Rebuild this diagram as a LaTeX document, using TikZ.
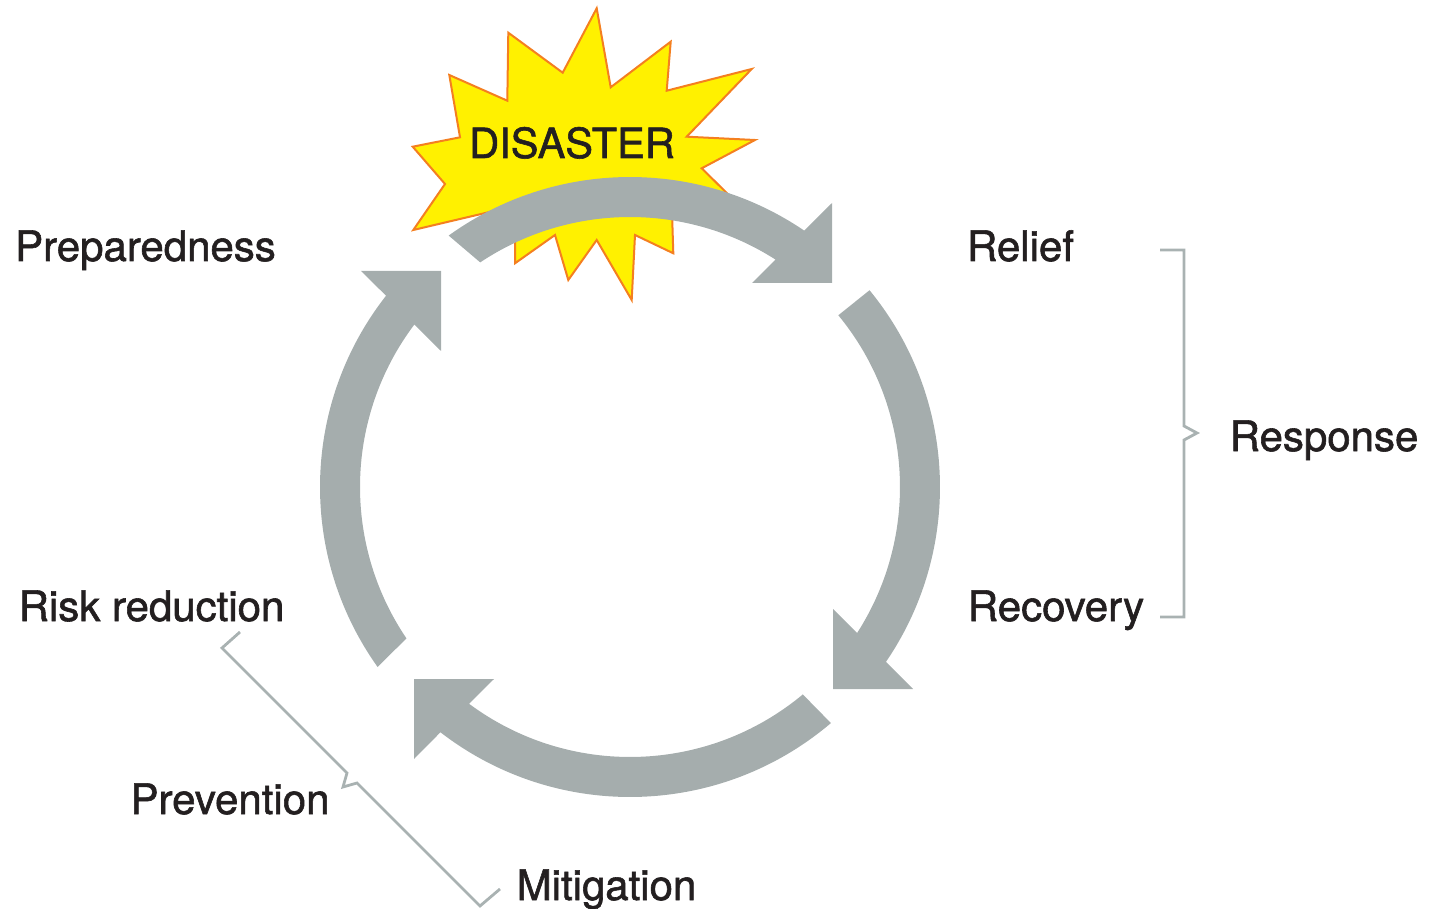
\documentclass[tikz,border=0pt]{standalone}
\usepackage{fontspec}
\setmainfont{TeX Gyre Heros}[FakeBold=1.4]
\definecolor{arrowgray}{HTML}{A5ADAD}
\definecolor{bracketgray}{HTML}{A9B2B2}
\definecolor{staryellow}{HTML}{FFF100}
\definecolor{starorange}{HTML}{F47F20}
\definecolor{textdark}{HTML}{231F20}
\tikzset{
  arrowfill/.style={fill=arrowgray},
  bracketline/.style={draw=bracketgray, line width=2.8pt, line join=miter},
  label/.style={text=textdark, inner sep=0pt, anchor=base, font=\fontsize{42}{50}\selectfont},
  burst/.style={fill=staryellow, draw=starorange, line width=2pt, line join=miter}
}
\begin{document}
\begin{tikzpicture}[x=1pt,y=1pt]
\useasboundingbox (0,0) rectangle (1433,-909);
\coordinate (C) at (630,-487);

% starburst
\draw[burst] (596.7,-8.3) -- (610.7,-87.3) -- (670.7,-41.7) -- (666.7,-90.7)
  -- (751.7,-69) -- (686.7,-136.7) -- (755,-140) -- (701.7,-168.3)
  -- (742,-208) -- (672,-212) -- (673.3,-253.3) -- (635,-235)
  -- (631.7,-300) -- (596.7,-240) -- (568.3,-280) -- (555,-235)
  -- (515,-263.3) -- (515,-206) -- (413.3,-230) -- (445,-184)
  -- (412.7,-146.7) -- (460,-137.3) -- (449.3,-75) -- (507.3,-100.7)
  -- (508.3,-32.7) -- (562.7,-72.7) -- cycle;

% top arrow (over the burst)
\fill[arrowfill] ([shift={(C)}]125.8:310) arc[start angle=125.8,end angle=55.8,radius=310]
  -- (832,-203) -- (832,-283) -- (752,-283)
  -- ([shift={(C)}]57.4:270) arc[start angle=57.4,end angle=123.7,radius=270] -- cycle;
% right arrow
\fill[arrowfill] ([shift={(C)}]39.4:310) arc[start angle=39.4,end angle=-34.35,radius=310]
  -- (913,-689) -- (833,-689) -- (833,-609)
  -- ([shift={(C)}]-32.75:270) arc[start angle=-32.75,end angle=39.5,radius=270] -- cycle;
% bottom arrow
\fill[arrowfill] ([shift={(C)}]-49.6:310) arc[start angle=-49.6,end angle=-127.7,radius=310]
  -- (414,-759) -- (414,-679) -- (494,-679)
  -- ([shift={(C)}]-126.6:270) arc[start angle=-126.6,end angle=-50.2,radius=270] -- cycle;
% left arrow
\fill[arrowfill] ([shift={(C)}]215.5:310) arc[start angle=215.5,end angle=141.9,radius=310]
  -- (361,-271) -- (441,-271) -- (441,-351)
  -- ([shift={(C)}]143.0:270) arc[start angle=143.0,end angle=214.1,radius=270] -- cycle;

% labels
\node[label, font=\fontsize{41.5}{50}\selectfont] (disaster) at (572,-158) {DISASTER};
\node[label] (prep) at (145.5,-261) {Preparedness};
\node[label] (risk) at (151.5,-621) {Risk reduction};
\node[label] (relief) at (1020.5,-261) {Relief};
\node[label] (recov) at (1056,-621) {Recovery};
\node[label] (resp) at (1324,-451) {Response};
\node[label] (prev) at (230,-814) {Prevention};
\node[label] (mitig) at (606.5,-900) {Mitigation};

% response bracket
\draw[bracketline] (1160,-250) -- (1184,-250) -- (1184,-426) -- (1197,-433)
  -- (1184,-440) -- (1184,-617) -- (1160,-617);
% prevention bracket
\draw[bracketline] (240,-632) -- (222,-648) -- (347,-773) -- (343,-787)
  -- (357,-783) -- (480,-906) -- (500,-889);
\end{tikzpicture}
\end{document}
